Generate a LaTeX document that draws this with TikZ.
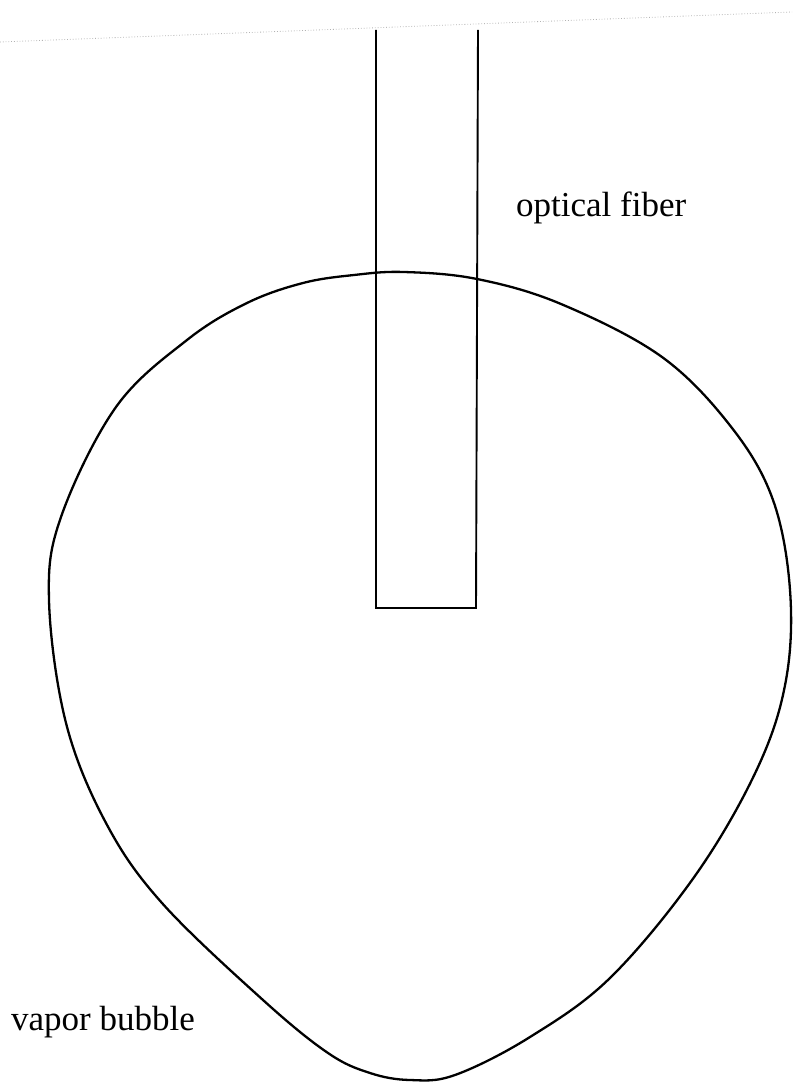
\documentclass[tikz,border=0pt]{standalone}
\usepackage{fontspec}
\setmainfont{Liberation Serif}
\usetikzlibrary{positioning}

\begin{document}
\begin{tikzpicture}[x=1pt,y=-1pt,
    bubbleline/.style={line width=2.3pt,line join=round},
    fiberline/.style={line width=1.9pt,line join=miter},
    textlabel/.style={font=\fontsize{35}{40}\selectfont,inner sep=0pt,anchor=base west}]
  \useasboundingbox (0,0) rectangle (792,1083);

  % faint page edge of the scan
  \draw[gray!60,line width=0.8pt,dotted] (0,42) -- (792,12);

  % optical fiber (open at the top)
  \coordinate (fibtl) at (376,30);
  \coordinate (fibbl) at (376,608);
  \coordinate (fibbr) at (476,608);
  \coordinate (fibtr) at (478,30);
  \draw[fiberline] (fibtl) -- (fibbl) -- (fibbr) -- (fibtr);

  % vapor bubble outline
  \draw[bubbleline] plot[smooth cycle,tension=0.6] coordinates {
    (404,272) (477,279) (561,304) (662,357) (732,428) (773,500)
    (790,590) (786,680) (758,767) (697,873) (611,977) (530,1037)
    (455,1075) (410,1080) (370,1073) (328,1053) (263,1000) (162,903)
    (106,823) (66,723) (49,600) (61,517) (116,407) (187,340)
    (247,303) (303,283) (354,275)};

  % labels
  \node[textlabel] (fiberlbl) at (516,217) {optical fiber};
  \node[textlabel] (bubblelbl) at (11,1030) {vapor bubble};
\end{tikzpicture}
\end{document}
